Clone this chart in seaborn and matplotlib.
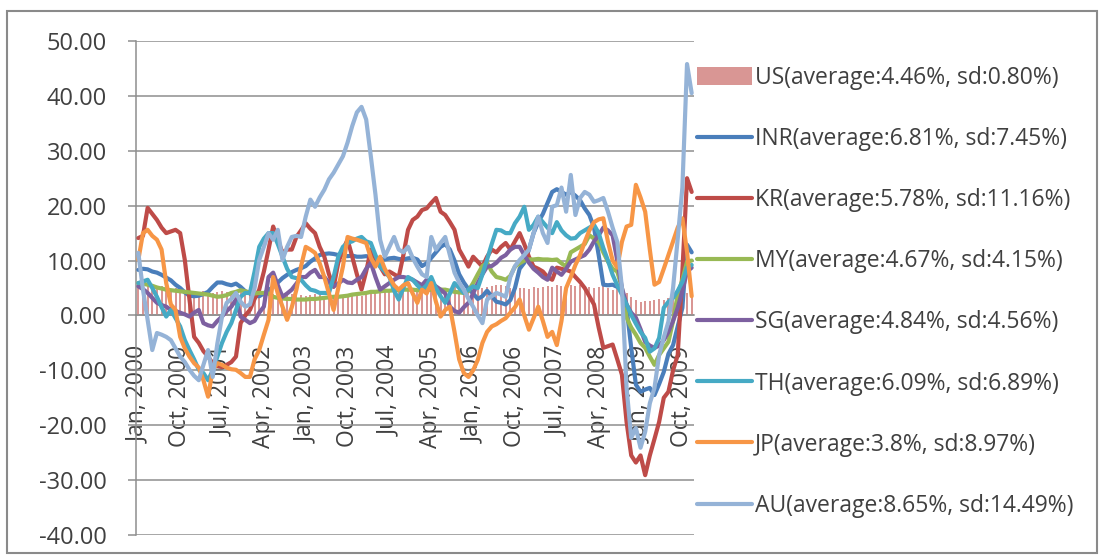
import numpy as np
import pandas as pd
import matplotlib
matplotlib.use("Agg")
import matplotlib.pyplot as plt
from matplotlib.patches import Rectangle, Patch
from matplotlib.lines import Line2D
import seaborn as sns

# ---------------- data (monthly, Jan 2000 - Dec 2009) ----------------
months = pd.date_range("2000-01-01", periods=120, freq="MS")
tick_labels = ["Jan, 2000", "Oct, 2000", "Jul, 2001", "Apr, 2002", "Jan, 2003",
               "Oct, 2003", "Jul, 2004", "Apr, 2005", "Jan, 2006", "Oct, 2006",
               "Jul, 2007", "Apr, 2008", "Jan, 2009", "Oct, 2009"]

US = [5.0, 5.2, 5.3, 5.0, 5.2, 5.4, 5.0, 4.8, 5.0, 4.6, 4.7, 4.5,
      4.5, 4.3, 4.4, 4.2, 4.0, 4.3, 4.5, 4.2, 4.0, 4.0, 4.3, 4.0,
      4.2, 4.0, 3.9, 4.3, 4.0, 3.9, 3.8, 3.7, 3.9, 3.9, 3.8, 3.7,
      3.6, 3.8, 3.9, 3.8, 3.6, 3.4, 3.5, 3.3, 3.6, 3.7, 3.6, 3.5,
      3.6, 3.9, 4.2, 4.4, 4.3, 4.4, 4.5, 4.7, 4.6, 4.5, 4.5, 4.4,
      4.5, 4.4, 4.5, 4.8, 4.6, 4.8, 5.0, 4.9, 5.2, 5.0, 5.0, 4.9,
      5.0, 5.2, 5.0, 5.2, 5.4, 5.5, 5.5, 5.3, 5.0, 5.1, 5.0, 5.0,
      4.9, 5.2, 5.0, 5.1, 5.3, 5.2, 5.5, 5.4, 5.6, 5.5, 5.3, 5.5,
      5.4, 5.2, 5.0, 5.2, 5.3, 5.0, 4.6, 4.8, 4.4, 4.0, 3.4, 2.8,
      2.5, 2.6, 2.7, 2.9, 3.0, 2.8, 3.2, 3.4, 3.5, 3.7, 4.0, 4.2]

INR = [8.3, 8.5, 8.4, 8.0, 7.8, 7.4, 6.9, 6.4, 5.6, 5.0, 4.2, 3.6,
       3.5, 3.6, 3.9, 4.3, 5.2, 6.0, 6.0, 5.7, 5.5, 5.8, 5.2, 4.4,
       4.0, 3.6, 3.5, 4.0, 4.6, 5.2, 6.0, 6.8, 7.4, 7.9, 8.3, 8.6,
       9.0, 9.8, 10.4, 11.0, 11.2, 11.3, 11.2, 11.0, 11.0, 10.8, 10.9, 10.7,
       10.7, 10.8, 10.6, 10.4, 10.3, 10.2, 10.4, 10.5, 10.3, 10.2, 10.4, 10.5,
       10.2, 9.0, 9.5, 10.5, 11.5, 12.5, 13.0, 12.0, 10.0, 7.5, 6.0, 4.8,
       4.0, 3.0, 3.5, 4.5, 3.5, 2.5, 2.3, 2.0, 2.8, 5.0, 8.5, 9.6,
       12.0, 15.0, 17.0, 18.5, 20.5, 22.5, 23.0, 22.5, 22.0, 22.5, 21.8, 21.0,
       19.5, 18.3, 16.0, 11.0, 5.6, 5.5, 5.6, 5.2, 4.5, 1.4, -5.9, -12.6,
       -13.9, -13.5, -13.2, -14.5, -12.5, -10.3, -7.0, -5.4, -2.0, 1.4, 12.9, 11.5]

KR = [14.1, 14.5, 19.6, 18.5, 17.4, 16.0, 15.0, 15.3, 15.6, 15.0, 10.1, 2.9,
      -3.9, -5.0, -6.5, -7.5, -8.7, -9.2, -9.4, -9.0, -8.5, -7.5, -1.4, 0.0,
      1.0, 3.0, 4.7, 8.0, 12.0, 16.2, 13.8, 11.4, 12.0, 12.0, 14.3, 15.5,
      16.8, 15.8, 15.0, 12.5, 10.7, 7.5, 5.2, 9.6, 12.0, 13.8, 10.7, 7.5,
      4.7, 8.0, 12.0, 10.5, 8.9, 7.5, 8.0, 7.5, 7.0, 11.0, 15.6, 17.4,
      18.0, 19.2, 19.5, 20.5, 21.4, 18.9, 18.3, 17.0, 15.6, 12.0, 10.5, 8.9,
      10.7, 9.8, 8.9, 10.7, 12.0, 11.5, 12.5, 13.2, 12.0, 13.5, 15.0, 13.0,
      10.7, 8.9, 8.5, 8.0, 7.0, 6.5, 8.7, 8.5, 8.3, 8.0, 7.0, 6.1,
      5.0, 3.5, 2.0, -2.2, -5.9, -5.6, -5.3, -8.0, -10.8, -19.4, -25.5, -26.8,
      -25.5, -29.1, -25.5, -22.5, -19.4, -15.0, -13.9, -10.0, -7.2, 8.0, 25.0, 22.5]

MY = [5.9, 5.8, 5.6, 5.4, 5.1, 4.9, 4.7, 4.6, 4.5, 4.4, 4.3, 4.2,
      4.1, 4.0, 3.9, 3.8, 3.6, 3.4, 3.5, 3.7, 4.1, 4.3, 4.6, 4.4,
      4.2, 4.0, 4.1, 4.1, 4.0, 3.4, 3.2, 3.1, 3.0, 3.0, 2.9, 2.9,
      2.9, 3.0, 3.0, 3.1, 3.2, 3.3, 3.4, 3.4, 3.5, 3.6, 3.8, 3.9,
      4.0, 4.1, 4.3, 4.3, 4.4, 4.5, 4.5, 4.6, 4.6, 4.7, 4.7, 4.7,
      4.6, 4.5, 4.6, 4.7, 4.8, 4.7, 4.7, 4.5, 4.3, 4.2, 4.1, 4.5,
      5.9, 7.5, 9.0, 9.6, 8.0, 7.0, 6.8, 6.5, 7.2, 8.9, 9.5, 10.0,
      10.2, 10.2, 10.3, 10.2, 10.2, 10.1, 10.2, 9.5, 8.9, 11.5, 12.0, 12.5,
      13.0, 14.6, 14.0, 13.4, 11.5, 9.8, 8.5, 8.0, 5.0, -0.4, -2.2, -3.5,
      -5.0, -5.9, -7.5, -9.0, -7.2, -6.0, -4.8, -1.0, 3.8, 6.5, 9.8, 10.0]

SG = [5.3, 4.8, 4.1, 3.2, 2.3, 1.9, 1.6, 1.0, 0.8, 0.5, 0.2, -0.2,
      0.5, 1.0, -1.4, -1.8, -2.0, -1.0, -0.2, 0.8, 1.6, 2.9, -0.2, -0.8,
      -1.4, -1.0, 0.5, 1.6, 7.0, 7.8, 5.5, 3.4, 4.0, 4.7, 5.8, 7.0,
      7.0, 7.8, 8.3, 7.0, 7.0, 6.0, 5.3, 5.8, 6.5, 6.0, 5.9, 6.5,
      7.0, 8.5, 9.6, 7.0, 4.7, 5.3, 5.9, 6.5, 7.0, 7.0, 6.8, 6.5,
      6.0, 5.5, 6.5, 5.9, 5.3, 4.7, 4.0, 1.6, 0.8, 0.5, 1.5, 2.3,
      4.0, 5.9, 7.5, 8.9, 9.0, 9.6, 10.5, 11.0, 12.0, 12.5, 12.5, 11.0,
      9.6, 8.5, 7.8, 7.0, 6.5, 8.7, 8.0, 7.4, 8.5, 9.8, 10.2, 10.6,
      11.0, 12.0, 13.5, 14.6, 16.0, 15.5, 14.6, 10.0, 5.0, 2.0, 0.5, -0.4,
      -2.5, -4.8, -5.5, -5.9, -5.5, -4.5, -3.0, -1.0, 1.4, 4.5, 8.0, 8.7]

TH = [5.9, 6.2, 6.5, 5.0, 3.4, 1.5, -0.2, 1.0, -0.5, -2.0, -4.5, -6.3,
      -8.0, -9.9, -10.5, -11.8, -10.0, -7.5, -5.0, -3.0, -1.4, 1.0, 3.4, 4.1,
      4.1, 8.0, 12.5, 14.0, 15.0, 15.0, 13.0, 10.7, 8.5, 7.0, 6.8, 6.5,
      5.5, 4.7, 4.5, 4.1, 4.1, 4.1, 7.0, 10.7, 12.5, 13.2, 13.5, 14.0,
      14.3, 13.5, 13.2, 11.0, 8.9, 8.0, 7.0, 4.5, 2.9, 5.0, 7.0, 6.5,
      5.5, 4.7, 5.5, 7.0, 5.0, 3.5, 2.3, 4.0, 5.9, 5.0, 4.1, 4.7,
      5.3, 5.0, 7.5, 10.2, 13.0, 15.6, 15.5, 15.0, 15.0, 16.8, 18.0, 19.8,
      15.6, 16.5, 18.0, 17.0, 16.0, 15.0, 17.0, 15.5, 14.6, 14.0, 14.1, 15.0,
      15.5, 16.0, 16.5, 15.0, 12.3, 10.0, 7.4, 5.5, 3.8, 2.0, 0.1, -1.5,
      -3.0, -4.1, -6.6, -6.0, -4.1, 1.4, 2.5, 3.2, 4.5, 6.1, 8.7, 9.2]

JP = [10.1, 15.0, 15.6, 14.5, 13.8, 12.0, 5.9, 2.0, 1.0, -3.9, -6.0, -7.5,
      -8.7, -9.5, -11.8, -14.8, -9.9, -8.7, -9.0, -9.5, -9.8, -9.9, -10.5, -11.2,
      -11.2, -8.0, -6.3, -3.5, -0.8, 7.0, 4.0, 1.6, -0.8, 1.5, 4.7, 9.0,
      12.5, 12.0, 11.4, 9.5, 7.0, 4.0, 1.0, 5.0, 8.9, 14.3, 14.0, 13.8,
      13.5, 13.2, 10.5, 8.9, 10.7, 8.5, 7.0, 5.5, 4.7, 5.5, 5.9, 4.0,
      2.3, 4.7, 4.0, 5.9, 2.5, -0.2, 1.0, 1.6, -3.0, -8.0, -10.5, -11.2,
      -10.0, -8.1, -5.0, -3.0, -2.0, -1.6, -1.0, -0.5, 0.5, 1.5, 2.9, 0.0,
      -2.6, -0.5, 1.6, -1.0, -3.9, -3.0, -5.4, -1.0, 5.0, 7.0, 9.2, 11.0,
      13.4, 15.5, 17.0, 17.5, 17.7, 13.4, 10.0, 8.7, 13.4, 16.2, 16.5, 23.8,
      21.5, 18.9, 12.0, 5.6, 6.1, 8.5, 11.0, 13.5, 16.0, 17.7, 11.6, 3.5]

AU = [11.4, 4.7, -0.8, -6.3, -3.2, -3.5, -3.9, -4.5, -6.0, -7.5, -8.5, -9.9,
      -11.0, -11.8, -9.0, -6.3, -11.2, -5.1, -0.2, 2.3, 3.0, 4.1, 2.5, 1.6,
      2.0, 5.0, 10.1, 12.5, 15.0, 13.8, 15.6, 10.1, 12.5, 14.3, 14.5, 14.3,
      18.0, 21.1, 19.8, 21.5, 22.9, 24.8, 26.0, 27.5, 29.0, 31.5, 34.5, 37.0,
      38.0, 35.7, 29.0, 22.0, 13.8, 10.7, 12.5, 14.3, 12.0, 11.5, 12.5, 10.5,
      8.9, 7.5, 7.0, 14.3, 12.0, 13.2, 14.3, 11.0, 7.8, 6.0, 4.7, 3.0,
      1.6, 0.0, -1.4, 2.9, 3.5, 4.1, 3.8, 3.4, 7.0, 9.0, 10.1, 11.0,
      12.0, 15.0, 18.0, 15.0, 13.2, 19.8, 20.1, 23.3, 18.9, 25.6, 18.3, 21.4,
      22.5, 22.0, 20.7, 21.0, 21.4, 18.9, 16.0, 13.4, 5.0, -13.2, -22.3, -20.5,
      -24.1, -21.2, -16.0, -13.2, -7.2, -4.0, -1.1, 5.0, 14.0, 23.3, 45.8, 40.5]

series_names = ["INR", "KR", "MY", "SG", "TH", "JP", "AU"]
series_vals = [INR, KR, MY, SG, TH, JP, AU]
legend_labels = ["US(average:4.46%, sd:0.80%)",
                 "INR(average:6.81%, sd:7.45%)",
                 "KR(average:5.78%, sd:11.16%)",
                 "MY(average:4.67%, sd:4.15%)",
                 "SG(average:4.84%, sd:4.56%)",
                 "TH(average:6.09%, sd:6.89%)",
                 "JP(average:3.8%, sd:8.97%)",
                 "AU(average:8.65%, sd:14.49%)"]

us_color = "#D99694"
colors = {"INR": "#4A7EBB", "KR": "#BE4B48", "MY": "#98B954", "SG": "#7D60A0",
          "TH": "#46AAC5", "JP": "#F79646", "AU": "#95B3D7"}

# ---------------- build frames ----------------
idx = np.arange(len(months))
df_us = pd.DataFrame({"idx": idx, "US": US})
df_lines = pd.concat([pd.DataFrame({"idx": idx, "value": v, "series": n})
                      for n, v in zip(series_names, series_vals)], ignore_index=True)

# ---------------- style ----------------
sns.set_theme(style="white")
plt.rcParams["font.family"] = ["Open Sans", "DejaVu Sans"]
text_color = "#404040"
grid_color = "#8E8E8E"

W, H = 1103, 559
fig = plt.figure(figsize=(W / 100, H / 100), dpi=100)
ax = fig.add_axes([136 / W, 1 - 535 / H, (694 - 136) / W, (535 - 41) / H])

sns.barplot(data=df_us, x="idx", y="US", native_scale=True, color=us_color,
            saturation=1, width=0.42, errorbar=None, linewidth=0, ax=ax, zorder=2)
sns.lineplot(data=df_lines, x="idx", y="value", hue="series", hue_order=series_names,
             palette=colors, linewidth=3.0, legend=False, ax=ax, zorder=3)

ax.set_xlim(-0.5, len(months) - 0.5)
ax.set_ylim(-40, 50)
ax.set_yticks(np.arange(-40, 51, 10))
ax.set_yticklabels([f"{v:.2f}" for v in np.arange(-40, 51, 10)])
ax.set_xlabel("")
ax.set_ylabel("")

ax.yaxis.grid(True, color=grid_color, linewidth=1.1)
ax.xaxis.grid(False)
ax.set_axisbelow(True)

for s in ["top", "right"]:
    ax.spines[s].set_visible(False)
ax.spines["left"].set_color(grid_color)
ax.spines["left"].set_linewidth(1.1)
ax.spines["bottom"].set_position(("data", 0))
ax.spines["bottom"].set_color(grid_color)
ax.spines["bottom"].set_linewidth(1.1)

major_pos = np.arange(0, len(months), 9)
ax.set_xticks(major_pos)
ax.set_xticklabels(tick_labels, rotation=90, va="top", ha="center")
ax.set_xticks(major_pos[1:] - 0.5, minor=True)
ax.tick_params(axis="x", which="major", length=0, pad=22, labelsize=16.5,
               labelcolor=text_color)
ax.tick_params(axis="x", which="minor", length=6, width=1.1, color=grid_color,
               direction="out")
ax.tick_params(axis="y", length=6, width=1.1, color=grid_color, pad=15,
               labelsize=17, labelcolor=text_color, left=True)

# ---------------- legend ----------------
handles = [Patch(facecolor=us_color, edgecolor="none")]
handles += [Line2D([0], [0], color=colors[n], lw=3.0) for n in series_names]
leg = fig.legend(handles, legend_labels, loc="upper left",
                 bbox_to_anchor=(697 / W, 1 - 66 / H), frameon=False,
                 fontsize=16.5, labelcolor=text_color, handlelength=2.4,
                 handleheight=0.8, handletextpad=0.13, labelspacing=1.62,
                 borderpad=0, borderaxespad=0)

# outer chart border
fig.patches.append(Rectangle((7 / W, 6 / H), (1097 - 7) / W, (553 - 11) / H,
                             transform=fig.transFigure, fill=False,
                             edgecolor="#8A8A8A", linewidth=1.5))

fig.savefig("out.png", dpi=100)
